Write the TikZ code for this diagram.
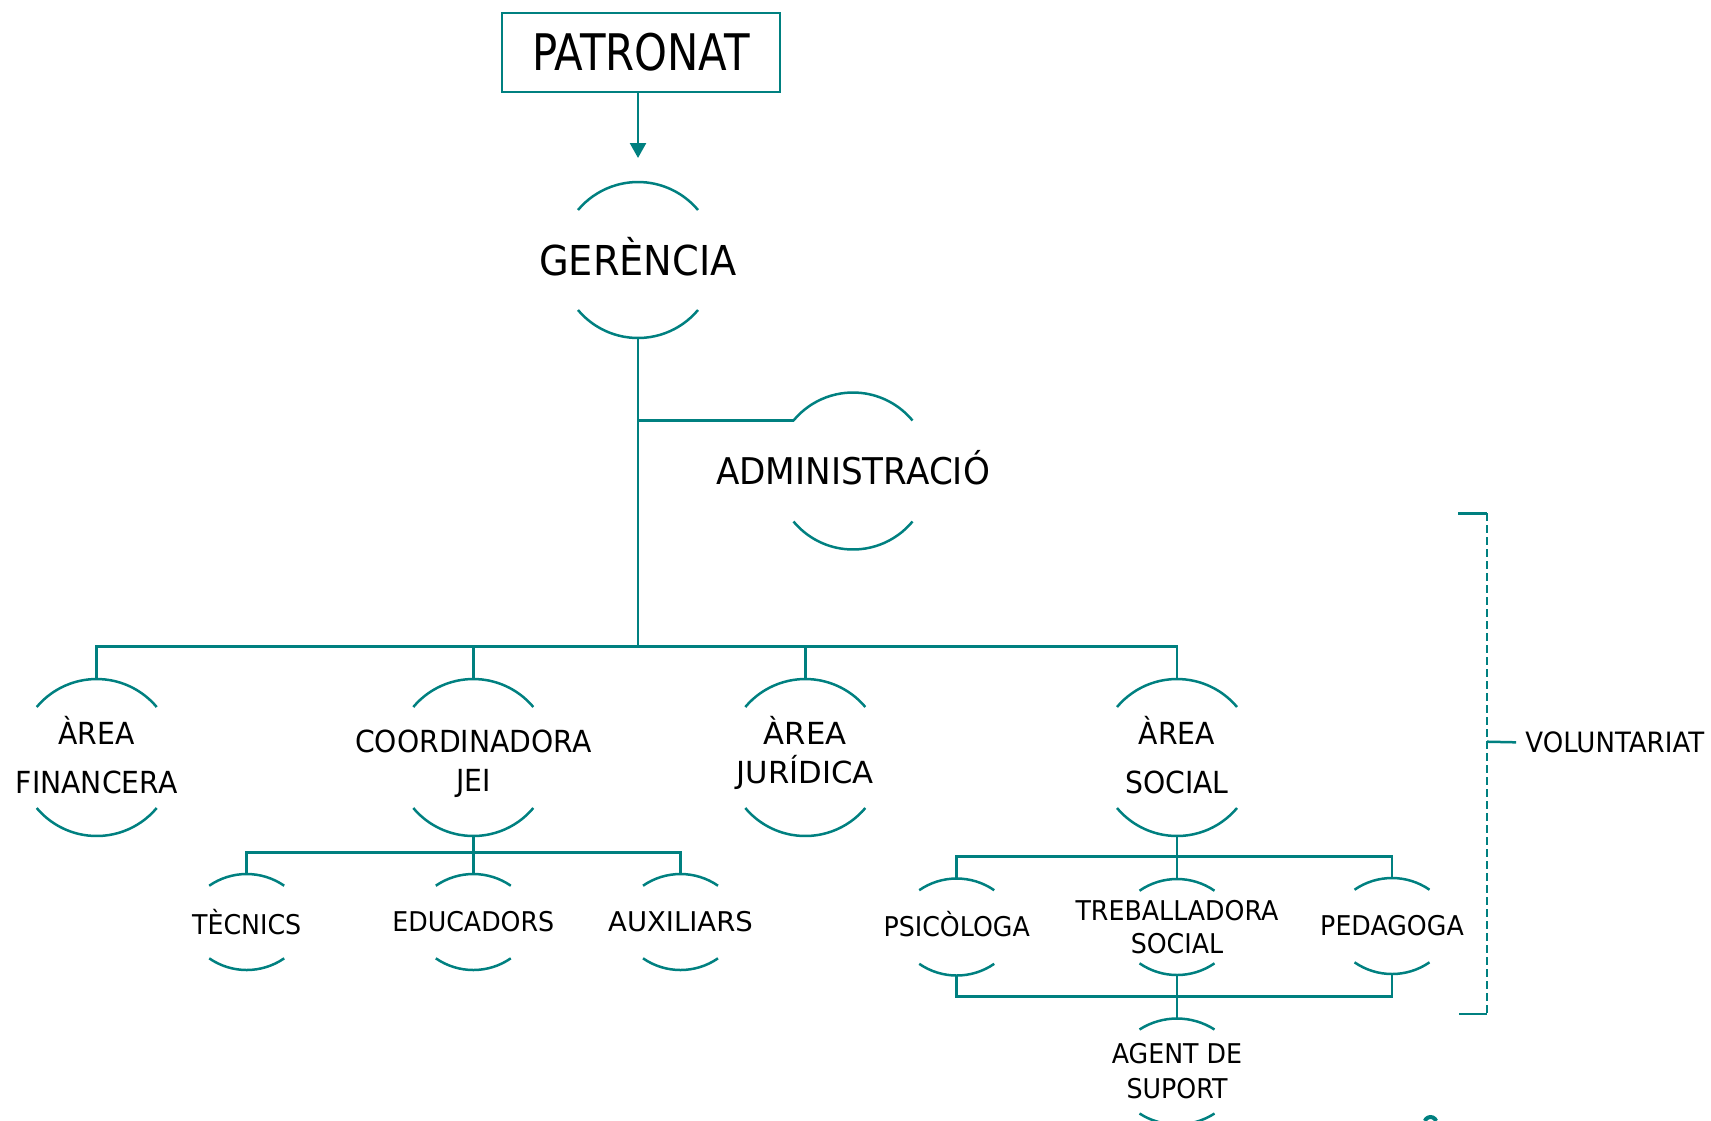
\documentclass[tikz,border=0pt]{standalone}
\usepackage{fontspec}
\setmainfont{DejaVu Sans}[FakeStretch=0.93]
\newfontfamily\patronatfont{DejaVu Sans}[FakeStretch=0.83]
\newfontfamily\widefont{DejaVu Sans}[FakeStretch=1.01]
\usetikzlibrary{calc,arrows.meta}

\definecolor{orgteal}{RGB}{0,128,128}

\tikzset{
  orgline/.style={draw=orgteal, line width=1.25pt},
  unittext/.style={align=center, inner sep=0pt, text=black},
  bigtext/.style={unittext, font=\fontsize{15.2}{19.5}\selectfont},
  smalltext/.style={unittext, font=\fontsize{13.6}{16.8}\selectfont},
}

% two arcs round a unit: [vertical shift], name, half height, half chord, sagitta
\newcommand{\orgarcs}[5][0]{%
  \pgfmathsetmacro{\arcr}{(#4*#4+#5*#5)/(2*#5)}%
  \pgfmathsetmacro{\arct}{asin(#4/\arcr)}%
  \coordinate (#2-c) at ($(#2.center)+(0,#1)$);
  \draw[orgline] ($(#2-c)+(-#4,-#3+#5)$) arc[start angle=270-\arct, end angle=270+\arct, radius=\arcr];
  \draw[orgline] ($(#2-c)+(#4,#3-#5)$) arc[start angle=90-\arct, end angle=90+\arct, radius=\arcr];
  \coordinate (#2-n) at ($(#2-c)+(0,-#3)$);
  \coordinate (#2-s) at ($(#2-c)+(0,#3)$);
  \coordinate (#2-w) at ($(#2-c)+(-#4,-#3+#5)$);
}

\begin{document}
\begin{tikzpicture}[x=0.5pt, y=-0.5pt]
  \useasboundingbox (0,0) rectangle (1711,1120);

  % top
  \node[draw=orgteal, line width=1.1pt, minimum width=139pt, minimum height=39.5pt, inner sep=0pt,
        font=\patronatfont\fontsize{25.2}{30}\selectfont] (patronat) at (641,52.5) {PATRONAT};
  \node[unittext, font=\fontsize{20.6}{24}\selectfont, text height=15pt, text depth=0pt] (ger) at (638,260) {GERÈNCIA};
  \node[unittext, font=\fontsize{18.4}{22}\selectfont, text height=13.4pt, text depth=0pt] (adm) at (853,471) {ADMINISTRACIÓ};
  \orgarcs{ger}{78}{60}{28}
  \orgarcs{adm}{78.5}{59.5}{28}

  % areas
  \node[bigtext] (fin) at (96.7,755)  {ÀREA\\[4.9pt]FINANCERA};
  \node[bigtext] (coo) at (473.3,764) {COORDINADORA\\JEI};
  \node[bigtext, font=\widefont\fontsize{15.2}{19.5}\selectfont] (jur) at (805.3,752.5) {ÀREA\\JURÍDICA};
  \node[bigtext] (soc) at (1177,755)  {ÀREA\\[4.9pt]SOCIAL};
  \orgarcs[2.5]{fin}{78.5}{60}{28}
  \orgarcs[-6.5]{coo}{78.5}{60}{28}
  \orgarcs[5]{jur}{78.5}{60}{28}
  \orgarcs[2.5]{soc}{78.5}{60}{28}

  % staff
  \node[smalltext] (tec) at (246.7,922) {TÈCNICS};
  \node[smalltext] (edu) at (473.3,922) {EDUCADORS};
  \node[smalltext, font=\widefont\fontsize{13.6}{16.8}\selectfont] (aux) at (680.5,922) {AUXILIARS};
  \node[smalltext] (psi) at (956.7,924) {PSICÒLOGA};
  \node[smalltext] (tre) at (1177,927)  {TREBALLADORA\\SOCIAL};
  \node[smalltext] (ped) at (1392,926)  {PEDAGOGA};
  \node[smalltext] (age) at (1177,1071.5) {AGENT DE\\[0.7pt]SUPORT};
  \foreach \n in {tec, edu, aux, tre, ped} {
    \orgarcs{\n}{48}{37.5}{11.7}
  }
  \orgarcs[3]{psi}{48.5}{37.5}{11.7}
  \orgarcs{age}{53}{37.5}{11}

  % connectors
  \draw[orgline, -{Triangle[width=8pt, length=7.5pt]}, shorten >=12pt] (patronat.south -| ger-n) -- (ger-n);
  \coordinate (bus) at (638,646.7);
  \draw[orgline] (ger-s) -- (bus);
  \draw[orgline] (ger-s |- adm-w) -- (adm-w);
  \draw[orgline] (fin-n) |- (bus) -| (soc-n);
  \draw[orgline] (coo-n) -- (coo-n |- bus);
  \draw[orgline] (jur-n) -- (jur-n |- bus);

  \coordinate (coobus) at (473.3,852.5);
  \draw[orgline] (coo-s) -- (coobus) -- (edu-n);
  \draw[orgline] (tec-n) |- (coobus) -| (aux-n);

  \coordinate (socbus) at (1177,856.7);
  \draw[orgline] (soc-s) -- (socbus) -- (tre-n);
  \draw[orgline] (psi-n) |- (socbus) -| (ped-n);
  \coordinate (lowbus) at (1177,996.7);
  \draw[orgline] (tre-s) -- (lowbus) -- (age-n);
  \draw[orgline] (psi-s) |- (lowbus) -| (ped-s);

  % volunteers bracket
  \coordinate (vtop) at (1487,513.3);
  \coordinate (vbot) at (1487,1014);
  \coordinate (vmid) at (1487,741.7);
  \draw[orgline] (1458.3,513.3) -- (vtop);
  \draw[orgline, dash pattern=on 3.6pt off 2.4pt] (vtop) -- (vbot);
  \draw[orgline] (1459.3,1014) -- (vbot);
  \node[unittext, anchor=west, font=\fontsize{14}{16}\selectfont] (vol) at (1525,742.5) {VOLUNTARIAT};
  \draw[orgline, shorten >=4.5pt] (vmid) -- (vol.west);

  % mark at the lower edge
  \draw[orgteal, line width=2pt] (1430.5,1123) ++(200:6) arc[start angle=200, end angle=340, radius=6];
\end{tikzpicture}
\end{document}
